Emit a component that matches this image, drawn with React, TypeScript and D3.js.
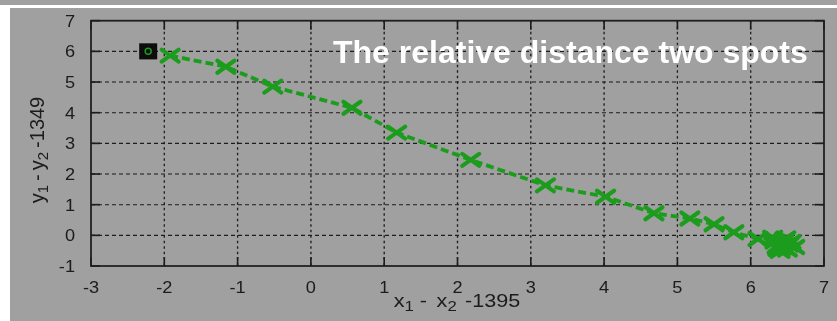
import React from "react";
import * as d3 from "d3";

// Relative offset between the two tracked spots, one point per frame
const trackX: number[] = [
  -1.92, -1.16, -0.52, 0.56, 1.17, 2.18, 3.2, 4.02, 4.68, 5.17, 5.5, 5.77, 6.1,
  6.3, 6.45, 6.38, 6.55, 6.42, 6.33, 6.6, 6.48, 6.37, 6.52, 6.44, 6.4, 6.5,
  6.36, 6.46,
];
const trackY: number[] = [
  5.86, 5.5, 4.85, 4.16, 3.35, 2.46, 1.63, 1.26, 0.72, 0.55, 0.36, 0.1, -0.12,
  -0.08, -0.2, -0.32, -0.22, -0.4, -0.2, -0.38, -0.1, -0.44, -0.3, -0.26,
  -0.5, -0.46, -0.36, -0.14,
];
// Starting position
const startX = -2.22;
const startY = 6.0;

const xTicks: number[] = [-3, -2, -1, 0, 1, 2, 3, 4, 5, 6, 7];
const yTicks: number[] = [-1, 0, 1, 2, 3, 4, 5, 6, 7];

const title = "The relative distance two spots";

const W = 837;
const H = 321;
const left = 91;
const right = 824;
const top = 20.7;
const bottom = 266;

export default function App() {
  const x = d3.scaleLinear().domain([-3, 7]).range([left, right]);
  const y = d3.scaleLinear().domain([-1, 7]).range([bottom, top]);

  const pts = trackX.map((v, i) => [v, trackY[i]] as [number, number]);
  const line = d3
    .line<[number, number]>()
    .x((d) => x(d[0]))
    .y((d) => y(d[1]));

  const green = "#1c9c1c";
  const ink = "#1b1b1b";
  const font = "'Liberation Sans', Arial, Helvetica, sans-serif";
  const tickLen = 9;
  const mw = 8.5; // half-width of the x markers
  const mh = 6; // half-height of the x markers

  return (
    <svg
      width={W}
      height={H}
      style={{ position: "absolute", left: 0, top: 0, display: "block" }}
    >
      <defs>
        <filter id="soft" x="-5%" y="-5%" width="110%" height="110%">
          <feGaussianBlur stdDeviation="0.5" />
        </filter>
      </defs>
      <rect x={0} y={0} width={W} height={H} fill="#ffffff" />
      <rect x={0} y={0} width={W} height={5} fill="#a0a0a0" />
      <rect x={10} y={8} width={W - 10} height={H - 8} fill="#a0a0a0" />

      <g filter="url(#soft)">
        {/* grid */}
        {yTicks.slice(1, -1).map((t) => (
          <line
            key={"gy" + t}
            x1={left}
            x2={right}
            y1={y(t)}
            y2={y(t)}
            stroke={ink}
            strokeWidth={1.1}
            strokeDasharray="4,3"
          />
        ))}
        {xTicks.slice(1, -1).map((t) => (
          <line
            key={"gx" + t}
            x1={x(t)}
            x2={x(t)}
            y1={top}
            y2={bottom}
            stroke={ink}
            strokeWidth={1.3}
            strokeDasharray="2.5,3"
          />
        ))}

        {/* inward ticks on all sides */}
        {xTicks.map((t) => (
          <g key={"tx" + t}>
            <line x1={x(t)} x2={x(t)} y1={bottom} y2={bottom - tickLen} stroke={ink} strokeWidth={1.6} />
            <line x1={x(t)} x2={x(t)} y1={top} y2={top + tickLen} stroke={ink} strokeWidth={1.6} />
          </g>
        ))}
        {yTicks.map((t) => (
          <g key={"ty" + t}>
            <line x1={left} x2={left + tickLen} y1={y(t)} y2={y(t)} stroke={ink} strokeWidth={1.6} />
            <line x1={right} x2={right - tickLen} y1={y(t)} y2={y(t)} stroke={ink} strokeWidth={1.6} />
          </g>
        ))}

        {/* frame */}
        <rect
          x={left}
          y={top}
          width={right - left}
          height={bottom - top}
          fill="none"
          stroke={ink}
          strokeWidth={1.7}
        />

        {/* tick labels */}
        {xTicks.map((t) => (
          <text
            key={"lx" + t}
            transform={`translate(${x(t)},293) scale(1.1,1)`}
            textAnchor="middle"
            fontFamily={font}
            fontSize={16.5}
            fill={ink}
          >
            {t}
          </text>
        ))}
        {yTicks.map((t) => (
          <text
            key={"ly" + t}
            transform={`translate(75,${y(t) + 6}) scale(1.1,1)`}
            textAnchor="end"
            fontFamily={font}
            fontSize={16.5}
            fill={ink}
          >
            {t}
          </text>
        ))}

        {/* axis labels */}
        <text
          transform="translate(457,307) scale(1.2,1)"
          textAnchor="middle"
          fontFamily={font}
          fontSize={18}
          fill={ink}
        >
          x<tspan dy={4} fontSize={14}>1</tspan>
          <tspan dy={-4} dx={5}>-</tspan>
          <tspan dx={8}>x</tspan>
          <tspan dy={4} fontSize={14}>2</tspan>
          <tspan dy={-4} dx={7}>-1395</tspan>
        </text>
        <text
          transform="translate(44,150) rotate(-90)"
          textAnchor="middle"
          fontFamily={font}
          fontSize={20}
          fill={ink}
        >
          y<tspan dy={4} fontSize={15}>1</tspan>
          <tspan dy={-4} dx={4}>-</tspan>
          <tspan dx={4}>y</tspan>
          <tspan dy={4} fontSize={15}>2</tspan>
          <tspan dy={-4} dx={4}>-1349</tspan>
        </text>

        {/* trajectory */}
        <path
          d={line(pts) ?? ""}
          fill="none"
          stroke={green}
          strokeWidth={3.8}
          strokeDasharray="8,4"
        />
        {pts.map((p, i) => (
          <g key={"m" + i} stroke={green} strokeWidth={4.2} strokeLinecap="round">
            <line x1={x(p[0]) - mw} y1={y(p[1]) - mh} x2={x(p[0]) + mw} y2={y(p[1]) + mh} />
            <line x1={x(p[0]) - mw} y1={y(p[1]) + mh} x2={x(p[0]) + mw} y2={y(p[1]) - mh} />
          </g>
        ))}

        {/* start marker */}
        <rect
          x={x(startX) - 9}
          y={y(startY) - 8}
          width={18}
          height={16}
          fill="#0a0a0a"
        />
        <circle cx={x(startX)} cy={y(startY)} r={3} fill="none" stroke={green} strokeWidth={1.5} />

        {/* title */}
        <text
          x={333}
          y={63}
          fontFamily={font}
          fontWeight="bold"
          fontSize={32}
          fill="#ffffff"
        >
          {title}
        </text>
      </g>
    </svg>
  );
}
